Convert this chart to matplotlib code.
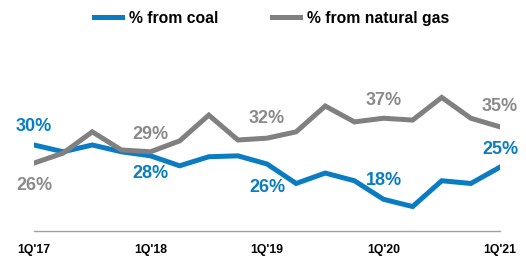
import matplotlib.pyplot as plt

# quarters 1Q'17 .. 1Q'21
quarters = list(range(17))
tick_pos = [0, 4, 8, 12, 16]
tick_labels = ["1Q'17", "1Q'18", "1Q'19", "1Q'20", "1Q'21"]

coal = [30.0, 28.5, 30.0, 28.5, 27.6, 25.4, 27.4, 27.6, 25.8, 21.5,
        23.8, 22.1, 18.0, 16.4, 22.1, 21.5, 25.1]
gas = [26.0, 28.2, 32.9, 28.9, 28.5, 30.9, 36.6, 31.1, 31.5, 32.9,
       38.6, 35.1, 35.9, 35.5, 40.5, 35.9, 34.0]

# labelled points: (index, text, pixel offset)
coal_labels = [(0, "30%", 18), (4, "28%", -18), (8, "26%", -24), (12, "18%", 19), (16, "25%", 18)]
gas_labels = [(0, "26%", -22), (4, "29%", 17), (8, "32%", 20), (12, "37%", 18), (16, "35%", 20)]

blue = "#0a7dc2"
grey = "#808080"
grey_txt = "#8a8a8a"

plt.rcParams['font.family'] = ['Liberation Sans', 'DejaVu Sans']

fig = plt.figure(figsize=(5.26, 2.59), dpi=100)
ax = fig.add_axes([34 / 526, 1 - 231 / 259, 466 / 526, 151 / 259])

ax.plot(quarters, coal, color=blue, lw=3.6, label="% from coal", solid_joinstyle='miter')
ax.plot(quarters, gas, color=grey, lw=3.6, label="% from natural gas", solid_joinstyle='miter')

for i, s, off in coal_labels:
    ax.annotate(s, (quarters[i], coal[i]), xytext=(0, off), textcoords='offset pixels',
                ha='center', va='center', fontsize=13, fontweight='bold', color=blue)
for i, s, off in gas_labels:
    ax.annotate(s, (quarters[i], gas[i]), xytext=(0, off), textcoords='offset pixels',
                ha='center', va='center', fontsize=13, fontweight='bold', color=grey_txt)

ax.set_xlim(0, 16)
ax.set_ylim(11.0, 44.35)
ax.set_xticks(tick_pos)
ax.set_xticklabels(tick_labels, fontsize=8.8, fontweight='bold')
ax.tick_params(axis='x', length=0, pad=9)
ax.set_yticks([])
for sp in ['top', 'right', 'left']:
    ax.spines[sp].set_visible(False)
ax.spines['bottom'].set_color('#a0a0a0')
ax.spines['bottom'].set_linewidth(1)
ax.patch.set_alpha(0)

fig.legend(loc='center', bbox_to_anchor=(0.517, 0.93), ncol=2, frameon=False,
           prop={'size': 11.3, 'weight': 'bold'}, handlelength=1.8,
           handletextpad=0.45, columnspacing=3.4)

fig.savefig("out.png", dpi=100)
